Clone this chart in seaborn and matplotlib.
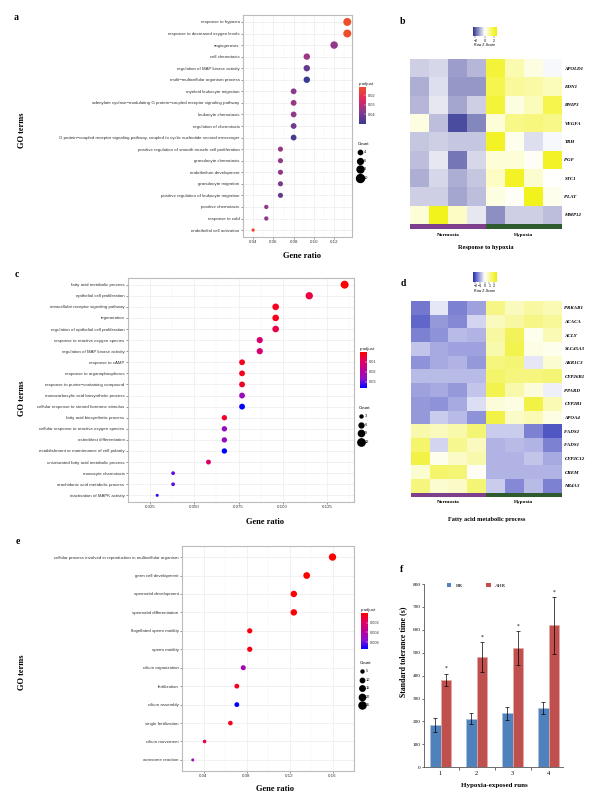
import numpy as np
import pandas as pd
import seaborn as sns
import matplotlib
matplotlib.use("Agg")
from matplotlib import pyplot as plt
from matplotlib.colors import LinearSegmentedColormap, ListedColormap, Normalize
from matplotlib.cm import ScalarMappable
from matplotlib.lines import Line2D

W, H = 600, 802

# ---------------- panel a : GO dot plot (response to hypoxia) ----------------
a_terms = ["response to hypoxia", "response to decreased oxygen levels", "angiogenesis",
           "cell chemotaxis", "regulation of MAP kinase activity",
           "multi\u2212multicellular organism process", "myeloid leukocyte migration",
           "adenylate cyclase\u2212modulating G protein\u2212coupled receptor signaling pathway",
           "leukocyte chemotaxis", "regulation of chemotaxis",
           "G protein\u2212coupled receptor signaling pathway, coupled to cyclic nucleotide second messenger",
           "positive regulation of smooth muscle cell proliferation", "granulocyte chemotaxis",
           "endothelium development", "granulocyte migration",
           "positive regulation of leukocyte migration", "positive chemotaxis",
           "response to cold", "endothelial cell activation"]
a_ratio = [0.133, 0.133, 0.120, 0.093, 0.093, 0.093, 0.080, 0.080, 0.080, 0.080, 0.080,
           0.067, 0.067, 0.067, 0.067, 0.067, 0.053, 0.053, 0.040]
a_count = [10, 10, 9, 7, 7, 7, 6, 6, 6, 6, 6, 5, 5, 5, 5, 5, 4, 4, 3]
a_padj = [0.0113, 0.0115, 0.036, 0.034, 0.043, 0.050, 0.037, 0.035, 0.036, 0.041, 0.048,
          0.035, 0.036, 0.036, 0.040, 0.043, 0.036, 0.036, 0.012]

# ---------------- panel c : GO dot plot (fatty acid) ----------------
c_terms = ["fatty acid metabolic process", "epithelial cell proliferation",
           "intracellular receptor signaling pathway", "regeneration",
           "regulation of epithelial cell proliferation", "response to reactive oxygen species",
           "regulation of MAP kinase activity", "response to cAMP", "response to organophosphorus",
           "response to purine\u2212containing compound", "monocarboxylic acid biosynthetic process",
           "cellular response to steroid hormone stimulus", "fatty acid biosynthetic process",
           "cellular response to reactive oxygen species", "osteoblast differentiation",
           "establishment or maintenance of cell polarity", "unsaturated fatty acid metabolic process",
           "monocyte chemotaxis", "arachidonic acid metabolic process", "inactivation of MAPK activity"]
c_ratio = [0.135, 0.115, 0.096, 0.096, 0.096, 0.087, 0.087, 0.077, 0.077, 0.077, 0.077, 0.077,
           0.067, 0.067, 0.067, 0.067, 0.058, 0.038, 0.038, 0.029]
c_count = [14, 12, 10, 10, 10, 9, 9, 8, 8, 8, 8, 8, 7, 7, 7, 7, 6, 4, 4, 3]
c_padj = [0.0002, 0.006, 0.003, 0.003, 0.007, 0.012, 0.012, 0.003, 0.003, 0.004, 0.024, 0.036,
          0.004, 0.025, 0.025, 0.036, 0.010, 0.030, 0.030, 0.033]

# ---------------- panel e : GO dot plot (reproduction) ----------------
e_terms = ["cellular process involved in reproduction in multicellular organism",
           "germ cell development", "spermatid development", "spermatid differentiation",
           "flagellated sperm motility", "sperm motility", "cilium organization", "fertilization",
           "cilium assembly", "single fertilization", "cilium movement", "acrosome reaction"]
e_ratio = [0.160, 0.136, 0.124, 0.124, 0.083, 0.083, 0.077, 0.071, 0.071, 0.065, 0.041, 0.030]
e_count = [27, 23, 21, 21, 14, 14, 13, 12, 12, 11, 7, 5]
e_padj = [0.00001, 0.00005, 0.0001, 0.0001, 0.0003, 0.0003, 0.0045, 0.0006, 0.0074, 0.0006,
          0.0015, 0.0048]

# ---------------- panel b : heatmap response to hypoxia ----------------
samples = ["N1", "N2", "N3", "N4", "H1", "H2", "H3", "H4"]
groups = ["Normoxia"] * 4 + ["Hypoxia"] * 4
b_genes = ["APOLD1", "EDN1", "BNIP3", "VEGFA", "TRH", "PGF", "STC1", "PLAT", "MMP12"]
b_z = [[-0.6, -0.5, -1.2, -0.9, 2.0, 0.8, 0.3, -0.1],
       [-1.0, -0.4, -1.3, -1.3, 1.8, 1.0, 0.9, 0.7],
       [-0.9, -0.3, -1.1, -0.6, 2.0, 0.3, 0.7, 1.8],
       [0.3, -0.8, -2.2, -1.5, 0.4, 1.2, 1.3, 1.2],
       [-0.7, -0.6, -0.7, -0.7, 2.2, 0.2, -0.4, -0.1],
       [-0.8, -0.3, -1.7, -0.5, 0.4, 0.4, 0.1, 2.2],
       [-1.0, -0.5, -1.0, -0.7, 0.6, 2.2, 0.5, 0.0],
       [-0.6, -0.6, -1.1, -0.8, 0.3, 0.1, 2.3, 0.2],
       [0.4, 2.3, 0.6, -0.3, -1.4, -0.6, -0.6, -0.8]]

# ---------------- panel d : heatmap fatty acid metabolic process ----------------
d_genes = ["PRKAB1", "ACACA", "ACLY", "SLC45A3", "AKR1C3", "CYP26B1", "PPARD", "CYP2B1",
           "APOA4", "FADS2", "FADS1", "CYP2C12", "CREM", "NR4A3"]
d_z = [[-1.6, -0.3, -1.5, -1.1, 1.3, 0.7, 1.0, 0.8],
       [-1.8, -1.2, -1.4, -0.5, 0.7, 1.0, 1.3, 1.1],
       [-1.5, -1.3, -0.8, -0.9, 1.0, 1.8, 0.2, 0.8],
       [-0.7, -1.0, -1.1, -1.1, 0.9, 1.9, 0.3, 0.2],
       [-1.3, -1.0, -0.9, -1.2, 1.4, 1.5, -0.3, 0.5],
       [-0.8, -0.8, -0.8, -0.8, 1.6, 1.4, 1.4, 1.5],
       [-1.1, -1.0, -1.2, -0.7, 1.9, 0.9, 0.4, -0.2],
       [-1.2, -1.3, -1.0, -0.4, 0.4, 0.3, 2.0, 0.8],
       [-1.2, -0.6, -0.8, -1.3, 2.0, 0.6, 0.8, 0.3],
       [0.9, 0.7, 0.9, 1.5, -0.6, -0.6, -1.5, -2.0],
       [1.6, -0.5, 1.2, 0.7, -0.9, -0.8, -0.9, -1.5],
       [2.0, 0.2, 0.6, 0.9, -0.9, -0.9, -0.7, -1.0],
       [0.5, 1.6, 1.5, 0.1, -0.9, -0.9, -0.9, -0.9],
       [1.4, 0.5, 0.6, 1.5, -0.6, -1.4, -0.8, -1.5]]

# ---------------- panel f : tolerance time bars ----------------
runs = ["1", "2", "3", "4"]
br_mean = [185, 212, 236, 257]
br_err = [29, 25, 29, 26]
ahr_mean = [382, 481, 522, 619]
ahr_err = [27, 64, 74, 125]

SANS = "Liberation Sans"
SERIF = "Liberation Serif"
plt.rcParams["font.family"] = SANS

fig = plt.figure(figsize=(W / 100, H / 100), dpi=100)
fig.patch.set_facecolor("white")


def px(x0, y0, x1, y1):
    return [x0 / W, 1 - y1 / H, (x1 - x0) / W, (y1 - y0) / H]


def ftext(x, y, s, **kw):
    fig.text(x / W, 1 - y / H, s, ha="center", va="center", **kw)


cmap_a = LinearSegmentedColormap.from_list("a", ["#EE4E2A", "#E0285E", "#8A3A8C", "#3A3A90"])
cmap_rb = LinearSegmentedColormap.from_list("rb", ["#FF0000", "#E1005F", "#BB0097", "#8A10CF", "#0000FF"])


def dotplot(box, terms, ratio, count, padj, cmap, xticks, xfmt, sizes,
            cbox, cticks, cfmt, lpos, lcounts):
    ax = fig.add_axes(px(*box))
    df = pd.DataFrame({"term": terms, "ratio": ratio, "count": count, "padj": padj})
    norm = Normalize(min(padj), max(padj))
    sns.scatterplot(data=df, x="ratio", y="term", hue="padj", palette=cmap, hue_norm=norm,
                    size="count", sizes=sizes, size_norm=(min(count), max(count)),
                    legend=False, linewidth=0, ax=ax, zorder=3)
    n = len(terms)
    ax.set_ylim(n - 1 + 0.6, -0.6)
    span = max(ratio) - min(ratio)
    ax.set_xlim(min(ratio) - 0.05 * span, max(ratio) + 0.05 * span)
    ax.set_xticks(xticks)
    ax.set_xticklabels([xfmt % t for t in xticks])
    step = xticks[1] - xticks[0]
    ax.set_xticks([xticks[0] - step / 2] + [t + step / 2 for t in xticks], minor=True)
    ax.grid(True, which="major", color="#EBEBEB", lw=0.5)
    ax.grid(True, which="minor", axis="x", color="#F5F5F5", lw=0.3)
    ax.set_axisbelow(True)
    ax.tick_params(which="major", labelsize=3.2, length=1.5, width=0.4, color="#444444",
                   labelcolor="#333333", pad=1)
    ax.tick_params(which="minor", length=0)
    for sp in ax.spines.values():
        sp.set_color("#BBBBBB")
        sp.set_linewidth(0.8)
    ax.set_xlabel("")
    ax.set_ylabel("")

    cax = fig.add_axes(px(*cbox))
    cb = fig.colorbar(ScalarMappable(norm=norm, cmap=cmap), cax=cax)
    cax.invert_yaxis()
    cb.set_ticks(cticks)
    cb.set_ticklabels([cfmt % t for t in cticks])
    cb.outline.set_visible(False)
    cax.tick_params(labelsize=2.8, length=1.2, width=0.3, color="white", direction="in",
                    labelcolor="#333333", pad=1.5)
    cax.set_title("p.adjust", fontsize=3.2, loc="left", pad=1.5, color="#222222")

    handles = []
    for c in lcounts:
        s = sizes[0] + (c - min(count)) / (max(count) - min(count)) * (sizes[1] - sizes[0])
        handles.append(Line2D([], [], ls="", marker="o", color="black", markersize=np.sqrt(s)))
    leg = fig.legend(handles, [str(c) for c in lcounts], title="Count", loc="upper left",
                     bbox_to_anchor=(lpos[0] / W, 1 - lpos[1] / H), frameon=False,
                     fontsize=2.8, title_fontsize=3.2, handletextpad=0.2, labelspacing=1.15,
                     borderpad=0, borderaxespad=0, handlelength=1.2)
    leg._legend_box.align = "left"
    return ax


dotplot((243, 15, 352, 237), a_terms, a_ratio, a_count, a_padj, cmap_a,
        [0.04, 0.06, 0.08, 0.10, 0.12], "%.2f", (5.7, 33),
        (359, 87, 366, 124), [0.02, 0.03, 0.04], "%.2f", (358, 142), [4, 6, 8, 10])
dotplot((128, 278, 354, 502), c_terms, c_ratio, c_count, c_padj, cmap_rb,
        [0.025, 0.050, 0.075, 0.100, 0.125], "%.3f", (4.7, 33),
        (360, 352, 367, 388), [0.01, 0.02, 0.03], "%.2f", (359, 406), [3, 6, 9, 12])
dotplot((182, 546, 354, 771), e_terms, e_ratio, e_count, e_padj, cmap_rb,
        [0.04, 0.08, 0.12, 0.16], "%.2f", (4.7, 28),
        (361, 613, 368, 649), [0.002, 0.004, 0.006], "%.3f", (360, 661), [5, 10, 15, 20, 25])

for (lx, ly), (gx, gy) in [((22, 130), (302, 256)), ((22, 398), (265, 522)), ((22, 672), (275, 789))]:
    ftext(lx, ly, "GO terms", rotation=90, family=SERIF, fontweight="bold", fontsize=6)
    ftext(gx, gy, "Gene ratio", family=SERIF, fontweight="bold", fontsize=6)


# ---------------- heatmaps ----------------
def heat(hbox, bbox_, kbox, z, genes, cmap, lim, kticks, title, ty):
    ax = fig.add_axes(px(*hbox))
    df = pd.DataFrame(z, index=genes, columns=samples)
    sns.heatmap(df, ax=ax, cmap=cmap, vmin=-lim, vmax=lim, cbar=False,
                xticklabels=False, yticklabels=True)
    ax.yaxis.tick_right()
    ax.tick_params(axis="y", length=0, pad=2)
    ax.set_yticklabels(genes, rotation=0, fontstyle="italic", fontweight="bold",
                       family=SERIF, fontsize=3.6)
    ax.set_xlabel("")
    ax.set_ylabel("")

    axb = fig.add_axes(px(*bbox_))
    codes = pd.DataFrame([[0 if g == "Normoxia" else 1 for g in groups]], columns=samples)
    sns.heatmap(codes, ax=axb, cmap=ListedColormap(["#7E3F8D", "#2D5B2D"]), vmin=0, vmax=1,
                cbar=False, xticklabels=False, yticklabels=False)
    axb.set_xlabel("")
    axb.set_ylabel("")
    for i, g in enumerate(["Normoxia", "Hypoxia"]):
        axb.text(0.25 + 0.5 * i, -1.0, g, transform=axb.transAxes, ha="center", va="center",
                 family=SERIF, fontweight="bold", fontsize=3.8)

    kax = fig.add_axes(px(*kbox))
    cb = fig.colorbar(ScalarMappable(norm=Normalize(-lim, lim), cmap=cmap), cax=kax,
                      orientation="horizontal")
    cb.outline.set_visible(False)
    cb.set_ticks(kticks)
    kax.tick_params(labelsize=2.6, length=1.5, width=0.3, pad=0.5, color="#333333")
    kax.set_xlabel("Row Z-Score", fontsize=2.6, labelpad=0.5)
    ftext((hbox[0] + hbox[2]) / 2, ty, title, family=SERIF, fontweight="bold", fontsize=4.6)


cmap_b = LinearSegmentedColormap.from_list("b", ["#2A2E8E", "#FFFFFF", "#F0F000"])
cmap_d = LinearSegmentedColormap.from_list("d", ["#1C24B0", "#FFFFFF", "#EEEE10"])
heat((410, 59, 561.7, 224), (410, 224, 561.7, 229.3), (472.7, 26.7, 496.7, 36), b_z, b_genes,
     cmap_b, 2.6, [-2, 0, 2], "Response to hypoxia", 247)
heat((410.7, 301, 561.7, 492.7), (410.7, 492.7, 561.7, 497.3), (472.7, 272.3, 496.7, 281.7), d_z,
     d_genes, cmap_d, 2.6, [-2, -1, 0, 1, 2], "Fatty acid metabolic process", 520)

# ---------------- panel f ----------------
axf = fig.add_axes(px(424.3, 584, 563, 767.3))
fdf = pd.DataFrame({"run": runs * 2, "group": ["BR"] * 4 + ["AHR"] * 4,
                    "time": br_mean + ahr_mean})
sns.barplot(data=fdf, x="run", y="time", hue="group", palette={"BR": "#4F81BD", "AHR": "#C0504D"},
            width=0.58, errorbar=None, saturation=1, ax=axf, linewidth=0.5)
for cont, errs, edge in zip(axf.containers, [br_err, ahr_err], ["#A9C2E3", "#E6AAA8"]):
    for bar, e in zip(cont, errs):
        bar.set_edgecolor(edge)
        xc = bar.get_x() + bar.get_width() / 2
        h = bar.get_height()
        axf.errorbar(xc, h, yerr=e, color="black", lw=0.5, capsize=1.4, capthick=0.5)
for bar, e in zip(axf.containers[1], ahr_err):
    axf.text(bar.get_x() + bar.get_width() / 2, bar.get_height() + e + 22, "*",
             ha="center", va="center", fontsize=4, family=SERIF)
axf.set_ylim(0, 800)
axf.set_xlim(-0.45, 3.4)
axf.set_yticks(range(0, 801, 100))
axf.set_xticks([0.5, 1.5, 2.5], minor=True)
axf.tick_params(axis="y", labelsize=3.8, length=1.8, width=0.4, pad=1)
axf.tick_params(axis="x", which="major", labelsize=4.6, length=0, pad=3)
axf.tick_params(axis="x", which="minor", length=1.8, width=0.4)
for lab in axf.get_xticklabels() + axf.get_yticklabels():
    lab.set_family(SERIF)
for side in ["top", "right"]:
    axf.spines[side].set_visible(False)
for side in ["left", "bottom"]:
    axf.spines[side].set_color("#555555")
    axf.spines[side].set_linewidth(0.6)
axf.set_xlabel("")
axf.set_ylabel("")
axf.legend(ncol=2, loc="center left", bbox_to_anchor=(0.15, 0.99), frameon=False,
           prop={"family": SERIF, "size": 3.8}, handlelength=0.8, handleheight=0.8,
           columnspacing=4.5, handletextpad=0.8, borderaxespad=0)
ftext(403, 652, "Standard tolerance time (s)", rotation=90, family=SERIF, fontweight="bold",
      fontsize=5.6)
ftext(494, 786, "Hypoxia-exposed runs", family=SERIF, fontweight="bold", fontsize=5)

# panel letters
for s, x, y in [("a", 15.7, 17.3), ("b", 403, 22), ("c", 17.3, 274.3), ("d", 403, 283.3),
                ("e", 18.3, 541.7), ("f", 401.7, 570)]:
    ftext(x, y, s, family=SERIF, fontweight="bold", fontsize=7)

fig.savefig("out.png", dpi=100)
